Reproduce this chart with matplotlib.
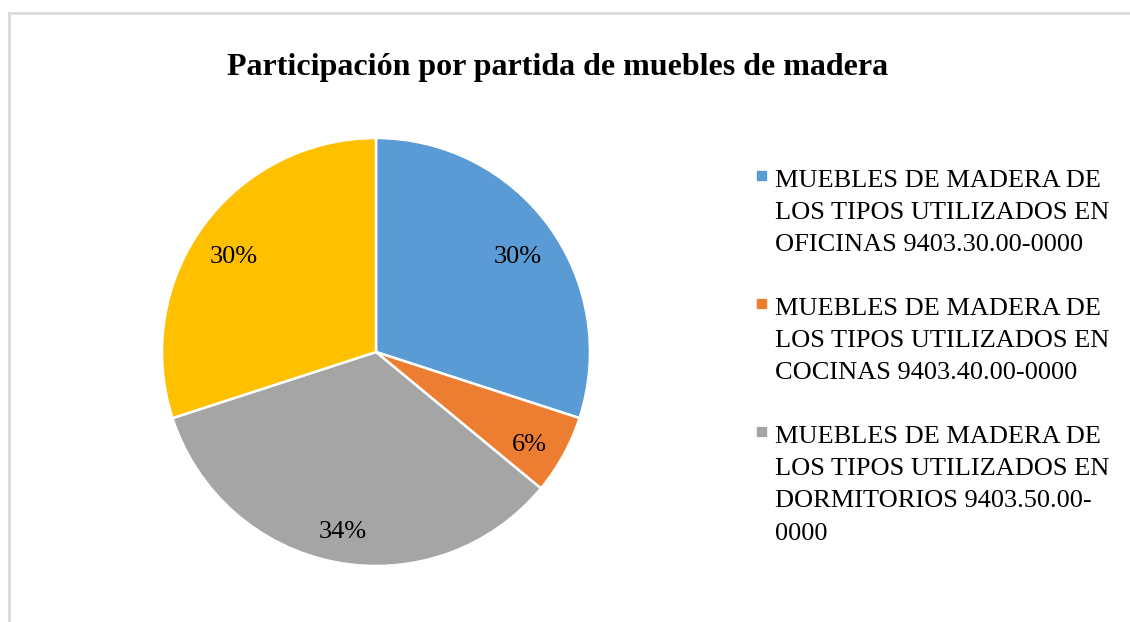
import matplotlib.pyplot as plt
from matplotlib.lines import Line2D
from matplotlib.patches import Rectangle
from matplotlib.transforms import ScaledTranslation

plt.rcParams['font.family'] = ['Liberation Serif', 'DejaVu Serif']

# data
shares = [30, 6, 34, 30]
colors = ['#5B9BD5', '#ED7D31', '#A5A5A5', '#FFC000']
legend_labels = [
    'MUEBLES DE MADERA DE\nLOS TIPOS UTILIZADOS EN\nOFICINAS 9403.30.00-0000',
    'MUEBLES DE MADERA DE\nLOS TIPOS UTILIZADOS EN\nCOCINAS 9403.40.00-0000',
    'MUEBLES DE MADERA DE\nLOS TIPOS UTILIZADOS EN\nDORMITORIOS 9403.50.00-\n0000',
]
title = 'Participación por partida de muebles de madera'

W, H = 1130, 622
fig = plt.figure(figsize=(W / 100, H / 100), dpi=100)

# light frame (top and left visible, rest cropped)
fig.add_artist(Line2D([9 / W, 9 / W], [0, 1 - 13 / H], color='#D9D9D9', lw=2))
fig.add_artist(Line2D([9 / W, 1], [1 - 13 / H, 1 - 13 / H], color='#D9D9D9', lw=2))

ax = fig.add_axes([162 / W, 56 / H, 428 / W, 428 / H])
wedges, texts, autotexts = ax.pie(
    shares, colors=colors, startangle=90, counterclock=False,
    autopct='%1.0f%%', pctdistance=0.82, radius=1,
    wedgeprops=dict(edgecolor='white', linewidth=1.8),
    textprops=dict(fontsize=19, color='black'))
ax.set_xlim(-1, 1)
ax.set_ylim(-1, 1)
# data labels sit a little lower in the original
for t in autotexts:
    t.set_transform(t.get_transform() + ScaledTranslation(0, -8 / 100, fig.dpi_scale_trans))

fig.text(0.493, 1 - 68 / H, title, ha='center', va='center',
         fontsize=23, fontweight='bold')

# legend, drawn by hand so the marker lines up with the first text line
for i, (lab, w) in enumerate(zip(legend_labels, wedges)):
    y0 = 167 + 128 * i
    fig.add_artist(Rectangle((757 / W, 1 - (y0 + 13) / H), 9 / W, 9 / H,
                             transform=fig.transFigure, color=w.get_facecolor()))
    fig.text(775 / W, 1 - (y0 + 3) / H, lab, ha='left', va='top',
             fontsize=19, linespacing=1.6)

fig.savefig('out.png', dpi=100)
